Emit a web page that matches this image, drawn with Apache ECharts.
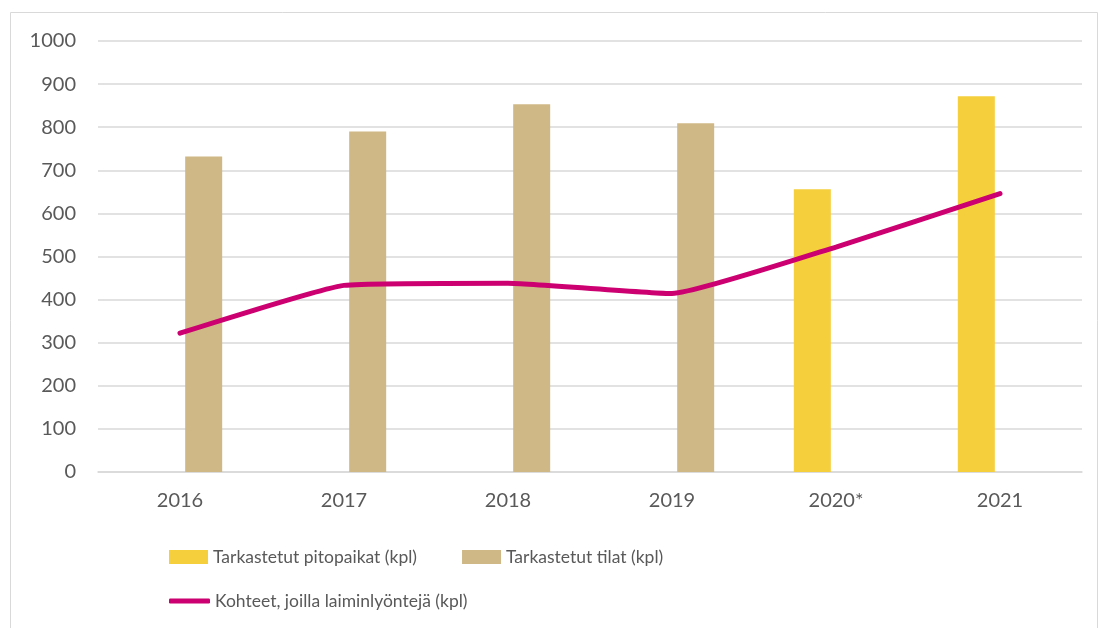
<!DOCTYPE html>
<html><head><meta charset="utf-8">
<script src="https://cdn.jsdelivr.net/npm/echarts@6/dist/echarts.min.js"></script>
<style>html,body{margin:0;padding:0;background:#fff}#c{width:1100px;height:628px}</style>
</head><body><div id="c"></div>
<script>
const categories = ['2016','2017','2018','2019','2020*','2021'];
const pitopaikat = [null,null,null,null,656,872];
const tilat = [732,790,853,809,null,null];
const laiminlyonnit = [322,433,438,414,522,646];
const yTicks = {min:0,max:1000,interval:100};
const names = ['Tarkastetut pitopaikat (kpl)','Tarkastetut tilat (kpl)','Kohteet, joilla laiminlyöntejä (kpl)'];

const FONT = 'Lato';
const chart = echarts.init(document.getElementById('c'));
chart.setOption({
  animation:false,
  textStyle:{fontFamily:FONT},
  graphic:[{type:'rect',shape:{x:10.5,y:12.5,width:1087,height:640},style:{fill:null,stroke:'#d9d9d9',lineWidth:1}}],
  grid:{left:98,right:18,top:41,bottom:156},
  legend:[
    {data:[names[0],names[1]],left:164,top:543,itemWidth:39,itemHeight:14,itemGap:45,icon:'rect',
     textStyle:{fontSize:17.5,color:'#595959',fontFamily:FONT}},
    {data:[{name:names[2],icon:'roundRect'}],left:164,top:587,itemWidth:41,itemHeight:5,
     textStyle:{fontSize:17.5,color:'#595959',fontFamily:FONT}}
  ],
  xAxis:{type:'category',data:categories,
    axisLine:{lineStyle:{color:'#d9d9d9',width:1.5}},axisTick:{show:false},
    axisLabel:{color:'#595959',fontSize:20,margin:19}},
  yAxis:{type:'value',min:yTicks.min,max:yTicks.max,interval:yTicks.interval,
    axisLine:{show:false},axisTick:{show:false},
    splitLine:{lineStyle:{color:'#d9d9d9',width:1.5}},
    axisLabel:{color:'#595959',fontSize:20,margin:22,formatter:v=>String(v)}},
  series:[
    {name:names[0],type:'bar',data:pitopaikat,barWidth:37,barGap:'28%',itemStyle:{color:'#F6CF3D'}},
    {name:names[1],type:'bar',data:tilat,barWidth:37,barGap:'28%',itemStyle:{color:'#CFB886'}},
    {name:names[2],type:'line',data:laiminlyonnit,smooth:0.12,symbol:'none',
     lineStyle:{color:'#CC0070',width:5,cap:'round'},itemStyle:{color:'#CC0070'}}
  ]
});
</script></body></html>
